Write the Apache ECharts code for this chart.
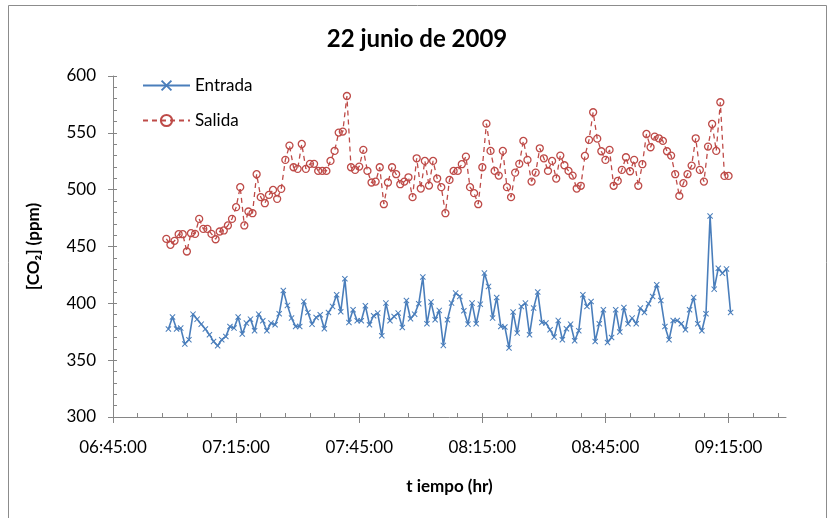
<!DOCTYPE html>
<html>
<head>
<meta charset="utf-8">
<script src="https://cdn.jsdelivr.net/npm/echarts@6/dist/echarts.min.js"></script>
<style>
html,body{margin:0;padding:0;background:#fff;}
#chart{width:834px;height:518px;}
</style>
</head>
<body>
<div id="chart"></div>
<script>
// ---- data ----
const titleText = '22 junio de 2009';
const xAxisName = 't iempo (hr)';
const yAxisName = '[CO₂] (ppm)';
const seriesNames = ['Entrada', 'Salida'];
// sampling: one reading per minute
const axisStart = '06:45:00';
const axisEnd = '09:29:00';
const entradaStart = '06:58:30';
const salidaStart = '06:58:00';
const stepMinutes = 1;
const xTickLabels = ['06:45:00', '07:15:00', '07:45:00', '08:15:00', '08:45:00', '09:15:00'];
const yTicks = [300, 350, 400, 450, 500, 550, 600];

const entrada = [
377.4, 387.9, 377.4, 378.2, 364.2, 368.0, 390.5, 386.1, 381.7, 377.4, 372.4, 366.5, 362.7, 368.0, 370.9, 379.7, 378.2, 387.9, 373.0, 382.6,
386.1, 375.9, 390.5, 384.7, 375.9, 382.6, 381.2, 390.8, 411.3, 398.2, 387.0, 379.7, 379.7, 401.7, 392.0, 381.7, 387.6, 390.0, 377.7, 392.0,
397.3, 407.5, 392.6, 421.6, 383.2, 394.3, 384.7, 384.7, 397.9, 381.2,
389.1, 391.4, 371.5, 400.2, 384.7, 388.5, 391.4, 378.8, 402.5, 386.4, 390.5, 399.6, 423.1, 382.0, 401.1, 385.6, 393.8, 363.0, 385.6, 400.2,
409.0, 406.1, 393.5, 381.7, 400.2, 382.0, 399.3, 426.6, 414.9, 387.0, 405.2, 379.7, 379.1, 360.7, 392.3, 373.8, 397.3, 400.2, 372.4, 395.8,
409.9, 383.2, 382.6, 376.8, 370.3, 385.0, 368.0, 377.7, 381.7, 367.1, 375.9,
407.5, 397.2, 401.6, 366.5, 382.0, 394.3, 365.6, 370.0, 394.3, 374.7, 396.4, 382.0, 387.0, 382.0, 395.8, 392.0, 399.6, 406.0, 416.3, 402.5,
379.7, 367.9, 384.9, 384.9, 382.0, 376.7, 394.3, 405.2, 382.0, 375.9, 390.8, 476.9, 412.5, 430.9, 426.5, 430.3, 392.0
];

const salida = [
456.7, 451.5, 455.0, 460.8, 460.8, 445.6, 461.7, 461.1, 474.3, 465.5, 465.5, 461.1, 456.4, 463.2, 464.1, 468.5, 474.3, 484.6, 502.2, 468.5,
480.8, 479.3, 513.6, 493.4, 488.1, 495.4, 499.8, 491.9, 500.7, 526.2, 538.8, 519.7, 518.3, 540.2, 518.3, 522.7, 522.7, 516.5, 516.5, 516.5,
525.3, 534.1, 550.2, 551.1, 582.4, 519.7, 517.4, 520.3, 535.0, 516.5, 506.3,
507.1, 519.7, 487.2, 506.3, 519.7, 513.6, 504.8, 507.1, 510.9, 493.4, 527.6, 501.0, 525.3, 503.6, 525.3, 509.8, 502.2, 479.3, 508.6, 516.5,
516.5, 522.4, 529.1, 502.2, 496.9, 487.2, 519.7, 558.1, 534.1, 516.5, 512.4, 534.1, 502.2, 493.4, 515.0, 522.7, 542.9, 526.2, 507.1, 515.0,
536.4, 527.6, 516.5, 525.3, 509.8, 530.0, 521.5, 516.5, 512.4, 501.0, 503.4,
529.7, 543.8, 568.1, 544.9, 533.8, 526.2, 535.0, 503.4, 507.7, 517.4, 528.5, 516.2, 526.2, 503.4, 522.4, 549.0, 537.3, 546.7, 545.2, 542.9,
533.8, 530.0, 513.6, 494.5, 505.7, 513.6, 521.2, 545.2, 517.4, 507.1, 537.9, 557.8, 534.1, 576.9, 512.1, 512.1
];

// ---- helpers ----
function toMin(s) { const p = s.split(':').map(Number); return p[0] * 60 + p[1] + (p[2] || 0) / 60; }
const base = toMin(axisStart);
function fmt(v) {
  const t = Math.round((base + v) * 60);
  const h = Math.floor(t / 3600), m = Math.floor((t % 3600) / 60), s = t % 60;
  const pad = n => String(n).padStart(2, '0');
  return pad(h) + ':' + pad(m) + ':' + pad(s);
}
const xMax = toMin(axisEnd) - base;
const xMajor = xTickLabels.map(l => toMin(l) - base);
const xMinor = [];
for (let v = 0; v < xMax; v += 6) xMinor.push(v);
const yMinor = [];
for (let v = yTicks[0]; v <= yTicks[yTicks.length - 1]; v += 10) yMinor.push(v);

function pairs(startStr, vals) {
  const s0 = toMin(startStr) - base;
  return vals.map((v, i) => [s0 + i * stepMinutes, v]);
}

const FONT = 'Lato';
const axisGray = '#868686';
const xPath = 'path://M0,1.2 L1.2,0 L5,3.8 L8.8,0 L10,1.2 L6.2,5 L10,8.8 L8.8,10 L5,6.2 L1.2,10 L0,8.8 L3.8,5 Z';

const chart = echarts.init(document.getElementById('chart'), null, { renderer: 'canvas' });
chart.setOption({
  animation: false,
  backgroundColor: '#fff',
  textStyle: { fontFamily: FONT },
  title: {
    text: titleText, left: 'center', top: 22,
    textStyle: { fontFamily: FONT, fontWeight: 'bold', fontSize: 24, color: '#000' }
  },
  graphic: [{
    type: 'rect', shape: { x: 8.5, y: 5.5, width: 818, height: 540 },
    style: { fill: 'none', stroke: '#8c8c8c', lineWidth: 1 }, silent: true, z: -1
  }],
  legend: {
    left: 137, top: 72, orient: 'vertical', itemWidth: 47, itemHeight: 14, itemGap: 18,
    textStyle: { fontFamily: FONT, fontSize: 17, color: '#000' },
    data: seriesNames
  },
  grid: { left: 113, right: 48, top: 76, bottom: 101 },
  xAxis: [{
    type: 'value', min: 0, max: xMax, position: 'bottom',
    name: xAxisName, nameLocation: 'middle', nameGap: 61,
    nameTextStyle: { fontFamily: FONT, fontWeight: 'bold', fontSize: 17, color: '#000' },
    axisLine: { show: true, lineStyle: { color: axisGray, width: 1 } },
    axisTick: { show: true, inside: false, length: 6, customValues: xMajor, lineStyle: { color: axisGray } },
    axisLabel: { customValues: xMajor, formatter: fmt, margin: 22, fontFamily: FONT, fontSize: 17, color: '#000' },
    splitLine: { show: false }
  }, {
    type: 'value', min: 0, max: xMax, position: 'bottom',
    axisLine: { show: false },
    axisTick: { show: true, inside: true, length: 4, customValues: xMinor, lineStyle: { color: axisGray } },
    axisLabel: { show: false },
    splitLine: { show: false }
  }],
  yAxis: [{
    type: 'value', min: yTicks[0], max: yTicks[yTicks.length - 1], interval: 50, position: 'left',
    name: yAxisName, nameLocation: 'middle', nameGap: 71,
    nameTextStyle: { fontFamily: FONT, fontWeight: 'bold', fontSize: 17, color: '#000' },
    axisLine: { show: true, lineStyle: { color: axisGray, width: 1 } },
    axisTick: { show: true, inside: false, length: 5, lineStyle: { color: axisGray } },
    axisLabel: { margin: 17, fontFamily: FONT, fontSize: 17, color: '#000' },
    splitLine: { show: false }
  }, {
    type: 'value', min: yTicks[0], max: yTicks[yTicks.length - 1], interval: 50, position: 'left',
    axisLine: { show: false },
    axisTick: { show: true, inside: true, length: 4, customValues: yMinor, lineStyle: { color: axisGray } },
    axisLabel: { show: false },
    splitLine: { show: false }
  }],
  series: [{
    name: seriesNames[0], type: 'line', xAxisIndex: 0, yAxisIndex: 0,
    data: pairs(entradaStart, entrada),
    symbol: xPath, symbolSize: 6, showAllSymbol: true,
    lineStyle: { color: '#4A7EBB', width: 1.6 },
    itemStyle: { color: '#4A7EBB' }
  }, {
    name: seriesNames[1], type: 'line', xAxisIndex: 0, yAxisIndex: 0,
    data: pairs(salidaStart, salida),
    symbol: 'circle', symbolSize: 7, showAllSymbol: true,
    lineStyle: { color: '#BE4B48', width: 1.3, type: [5, 4] },
    itemStyle: { color: 'rgba(255,255,255,0)', borderColor: '#BE4B48', borderWidth: 1.3 }
  }]
});
</script>
</body>
</html>
